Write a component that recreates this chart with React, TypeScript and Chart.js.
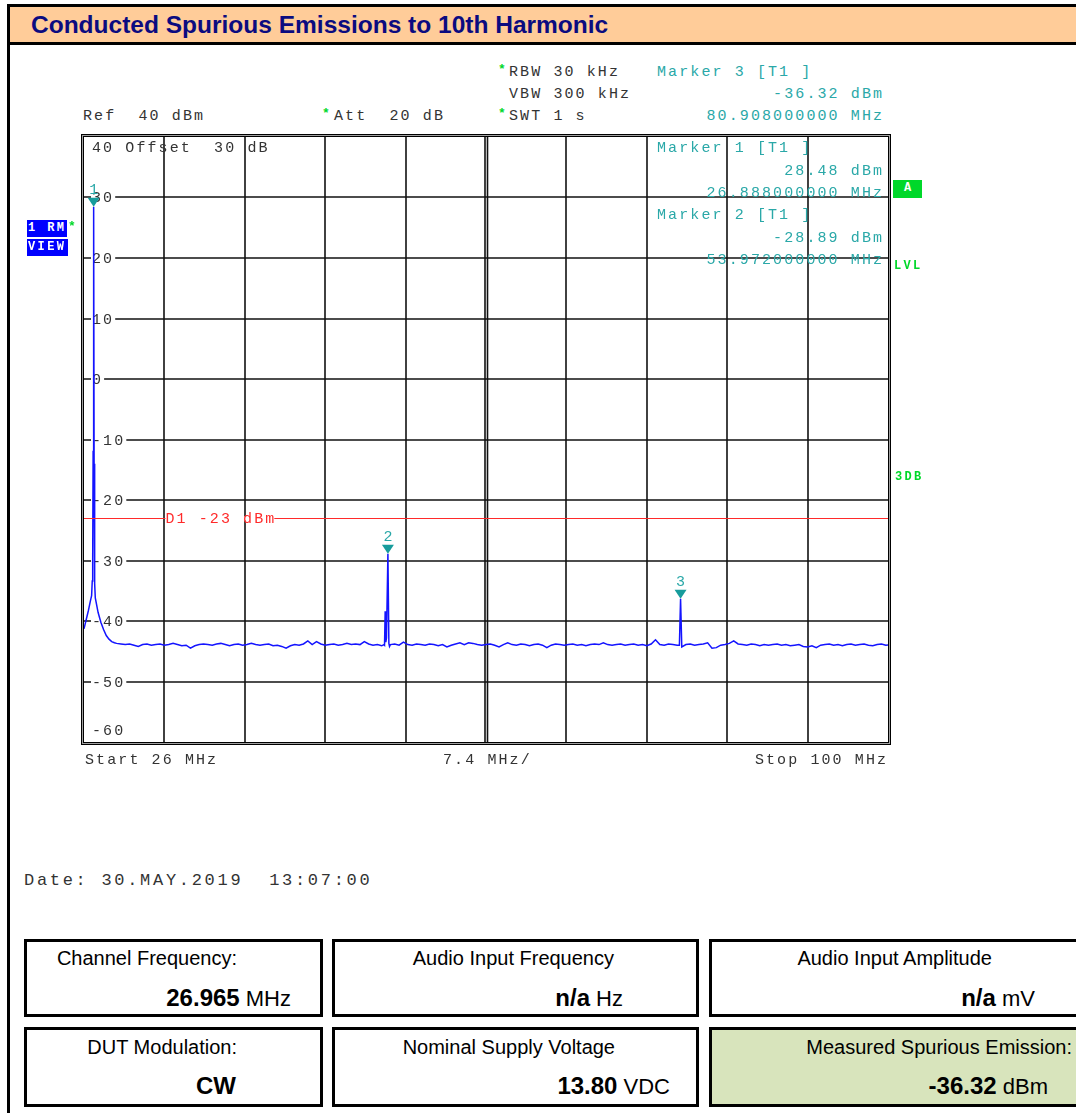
import React, { useEffect, useRef } from 'react';
import { Chart, registerables } from 'chart.js';

Chart.register(...registerables);

// ---------------- data ----------------
const START_MHZ = 26;
const STOP_MHZ = 100;
const MHZ_PER_DIV = 7.4;
const REF_LEVEL_DBM = 40;
const BOTTOM_LEVEL_DBM = -60;
const Y_TICK_LABELS = [30, 20, 10, 0, -10, -20, -30, -40, -50];
const DISPLAY_LINE_DBM = -23;

// carrier (fundamental) region of the trace
const CARRIER_FREQS = [26.0, 26.2, 26.4, 26.6, 26.7, 26.76, 26.8, 26.84, 26.888, 26.93, 26.96, 27.0, 27.04, 27.3, 27.55, 27.8, 28.05, 28.3, 28.55, 28.8];
const CARRIER_LEVELS = [-41.3, -39.8, -38.3, -36.6, -35.8, -33.4, -29.8, -12.0, 28.48, -14.0, -30.2, -33.8, -36.2, -38.6, -40.2, -41.4, -42.4, -43.0, -43.4, -43.6];

// 2nd harmonic region
const HARM2_FREQS = [53.6, 53.66, 53.72, 53.78, 53.84, 53.972, 54.06, 54.12];
const HARM2_LEVELS = [-43.9, -44.0, -38.4, -43.5, -42.8, -28.89, -43.7, -44.2];

// 3rd harmonic region
const HARM3_FREQS = [80.8, 80.908, 81.02];
const HARM3_LEVELS = [-44.0, -36.32, -44.3];

// noise floor, one reading every NOISE_STEP_MHZ from NOISE_START_MHZ
const NOISE_START_MHZ = 29.0;
const NOISE_STEP_MHZ = 0.4;
const NOISE_LEVELS = [
  -43.7, -43.8, -43.9, -43.8, -44.0, -44.2, -43.9, -43.8, -44.0, -43.9,
  -43.8, -44.0, -43.9, -43.7, -43.9, -44.1, -44.0, -44.5, -44.1, -43.9,
  -43.8, -43.9, -44.0, -43.8, -43.7, -43.9, -44.1, -43.9, -43.8, -44.0,
  -43.9, -43.7, -43.9, -44.0, -43.9, -43.8, -44.1, -44.0, -44.2, -44.5,
  -44.1, -43.9, -44.0, -43.8, -43.3, -43.9, -43.4, -43.8, -44.0, -43.9,
  -43.8, -44.0, -43.9, -43.7, -43.9, -43.8, -43.9, -43.4, -43.8, -44.0,
  -43.9, -44.1, -44.0, -43.9, -43.8, -44.0, -43.5, -43.9, -44.0, -43.8,
  -43.9, -44.0, -43.8, -43.9, -44.1, -43.9, -44.3, -44.0, -43.8, -43.6,
  -43.9, -43.6, -43.7, -43.9, -44.0, -43.9, -43.8, -44.0, -44.3, -43.9,
  -43.6, -43.9, -44.0, -43.8, -43.9, -44.1, -43.9, -43.8, -44.0, -44.4,
  -44.0, -43.8, -43.9, -44.0, -43.9, -43.8, -44.0, -43.9, -44.1, -43.9,
  -43.8, -43.9, -43.6, -43.9, -44.0, -43.9, -43.8, -44.0, -43.9, -43.8,
  -44.0, -43.9, -44.1, -43.8, -43.1, -43.9, -44.0, -43.8, -43.9, -44.0,
  -44.1, -43.9, -43.8, -44.0, -43.9, -43.8, -43.6, -44.5, -44.4, -44.0,
  -43.9, -43.7, -43.3, -43.8, -43.9, -44.0, -43.8, -43.9, -44.1, -43.9,
  -44.0, -43.9, -43.8, -44.0, -43.9, -44.1, -44.0, -43.9, -44.2, -44.3,
  -44.1, -44.4, -44.0, -43.9, -43.8, -44.0, -43.9, -44.1, -43.9, -43.8,
  -44.0, -43.9, -43.8, -44.0, -44.1, -43.9, -43.8, -44.0, -43.9,
];

const MARKER_IDS = ['1', '2', '3'];
const MARKER_FREQS = [26.888, 53.972, 80.908];
const MARKER_LEVELS = [28.48, -28.89, -36.32];

// ---------------- styles ----------------
const W = 1076;
const H = 1113;
const MONO = '"Liberation Mono", "DejaVu Sans Mono", monospace';
const SANS = '"Liberation Sans", Arial, sans-serif';
const GRAY_TEXT = '#333333';
const TEAL = '#2aa8a8';
const TEAL_MARK = '#179c9c';
const GREEN = '#00d82a';
const RED = '#ff2a2a';
const TRACE_BLUE = '#1414ff';
const MONO_SIZE = 15;
const SPACING = 2.1;

function buildTrace() {
  const segs: [number[], number[]][] = [
    [CARRIER_FREQS, CARRIER_LEVELS],
    [HARM2_FREQS, HARM2_LEVELS],
    [HARM3_FREQS, HARM3_LEVELS],
  ];
  const pts: { x: number; y: number }[] = [];
  segs.forEach(([f, l]) => f.forEach((v, i) => pts.push({ x: v, y: l[i] })));
  NOISE_LEVELS.forEach((l, i) => {
    const f = NOISE_START_MHZ + NOISE_STEP_MHZ * i;
    if (segs.some(([fs]) => f >= fs[0] - 0.01 && f <= fs[fs.length - 1] + 0.01)) return;
    pts.push({ x: f, y: l });
  });
  pts.sort((a, b) => a.x - b.x);
  return pts;
}

const analyzerPlugin = {
  id: 'analyzer',
  beforeDatasetsDraw(chart: any) {
    const { ctx, chartArea: a, scales } = chart;
    const xs = scales.x;
    const ys = scales.y;
    ctx.save();
    // grid
    ctx.strokeStyle = '#111111';
    ctx.lineWidth = 1.6;
    const nDiv = Math.round((STOP_MHZ - START_MHZ) / MHZ_PER_DIV);
    for (let k = 1; k < nDiv; k++) {
      const px = Math.round(xs.getPixelForValue(START_MHZ + MHZ_PER_DIV * k));
      const xsList = k === nDiv / 2 ? [px - 1, px + 1.5] : [px];
      xsList.forEach((p) => {
        ctx.beginPath();
        ctx.moveTo(p, a.top);
        ctx.lineTo(p, a.bottom);
        ctx.stroke();
      });
    }
    for (let v = REF_LEVEL_DBM - 10; v > BOTTOM_LEVEL_DBM; v -= 10) {
      const py = Math.round(ys.getPixelForValue(v));
      ctx.beginPath();
      ctx.moveTo(a.left, py);
      ctx.lineTo(a.right, py);
      ctx.stroke();
    }
    // frame (double)
    const L = a.left, R = a.right, T = a.top, B = a.bottom;
    ctx.lineWidth = 1;
    ctx.strokeStyle = '#000';
    ctx.strokeRect(L - 2.5, T - 2.5, R - L + 5, B - T + 5);
    ctx.strokeStyle = '#a0a0a0';
    ctx.strokeRect(L - 1.5, T - 1.5, R - L + 3, B - T + 3);
    ctx.strokeStyle = '#000';
    ctx.strokeRect(L - 0.5, T - 0.5, R - L + 1, B - T + 1);

    // y labels inside the plot
    ctx.font = `${MONO_SIZE}px ${MONO}`;
    (ctx as any).letterSpacing = `${SPACING}px`;
    ctx.textBaseline = 'middle';
    Y_TICK_LABELS.forEach((v) => {
      const py = Math.round(ys.getPixelForValue(v));
      const t = String(v);
      const w = ctx.measureText(t).width;
      ctx.fillStyle = '#fff';
      ctx.fillRect(L + 7, py - 2, w + 2, 4);
      ctx.fillStyle = GRAY_TEXT;
      ctx.fillText(t, L + 8, py + 1);
    });
    ctx.fillStyle = GRAY_TEXT;
    ctx.fillText(String(BOTTOM_LEVEL_DBM), L + 8, ys.getPixelForValue(BOTTOM_LEVEL_DBM) - 11);
    ctx.restore();
  },
  afterDatasetsDraw(chart: any) {
    const { ctx, chartArea: a, scales } = chart;
    const xs = scales.x;
    const ys = scales.y;
    ctx.save();
    // display line D1
    const dy = Math.round(ys.getPixelForValue(DISPLAY_LINE_DBM)) + 0.5;
    ctx.strokeStyle = RED;
    ctx.lineWidth = 1.2;
    ctx.beginPath();
    ctx.moveTo(a.left, dy);
    ctx.lineTo(a.right, dy);
    ctx.stroke();
    ctx.font = `${MONO_SIZE}px ${MONO}`;
    (ctx as any).letterSpacing = `${SPACING}px`;
    ctx.textBaseline = 'middle';
    const d1 = `D1 ${DISPLAY_LINE_DBM} dBm`;
    const lx = xs.getPixelForValue(START_MHZ + MHZ_PER_DIV) + 1;
    const w = ctx.measureText(d1).width;
    ctx.fillStyle = '#fff';
    ctx.fillRect(lx, dy - 2, w - SPACING, 4);
    ctx.fillStyle = RED;
    ctx.fillText(d1, lx, dy + 1);

    // markers
    MARKER_FREQS.forEach((f, i) => {
      const px = xs.getPixelForValue(f);
      const py = ys.getPixelForValue(MARKER_LEVELS[i]);
      ctx.fillStyle = TEAL_MARK;
      ctx.beginPath();
      ctx.moveTo(px - 6, py - 9);
      ctx.lineTo(px + 6, py - 9);
      ctx.lineTo(px, py);
      ctx.closePath();
      ctx.fill();
      ctx.fillStyle = TEAL;
      (ctx as any).letterSpacing = '0px';
      ctx.textAlign = 'center';
      ctx.fillText(MARKER_IDS[i], px, py - 17);
    });
    ctx.restore();
  },
};

type MonoProps = {
  x?: number;
  right?: number;
  y: number;
  text: string;
  color?: string;
  size?: number;
  spacing?: number;
  bold?: boolean;
};

function Mono({ x, right, y, text, color = GRAY_TEXT, size = MONO_SIZE, spacing = SPACING, bold = false }: MonoProps) {
  const style: React.CSSProperties = {
    position: 'absolute',
    top: y - Math.round(size * 0.5),
    fontFamily: MONO,
    fontSize: size,
    lineHeight: `${size + 2}px`,
    letterSpacing: spacing,
    whiteSpace: 'pre',
    color,
    fontWeight: bold ? 'bold' : 'normal',
  };
  if (right !== undefined) style.right = W - right - spacing;
  else style.left = x;
  return <span style={style}>{text}</span>;
}

function Star({ x, y }: { x: number; y: number }) {
  return (
    <span
      style={{
        position: 'absolute',
        left: x,
        top: y - 9,
        fontFamily: MONO,
        fontSize: 13,
        lineHeight: '14px',
        fontWeight: 'bold',
        color: GREEN,
      }}
    >
      *
    </span>
  );
}

function Box({ left, top, width, height, bg = '#fff' }: { left: number; top: number; width: number; height: number; bg?: string }) {
  return (
    <div
      style={{
        position: 'absolute',
        left,
        top,
        width,
        height,
        boxSizing: 'border-box',
        border: '3px solid #000',
        background: bg,
      }}
    />
  );
}

function Label({ right, cy, text }: { right: number; cy: number; text: string }) {
  return (
    <span
      style={{
        position: 'absolute',
        right: W - right,
        top: cy - 12,
        fontFamily: SANS,
        fontSize: 20,
        lineHeight: '24px',
        whiteSpace: 'pre',
        color: '#000',
      }}
    >
      {text}
    </span>
  );
}

function Value({ right, cy, value, unit }: { right: number; cy: number; value: string; unit: string }) {
  return (
    <span
      style={{
        position: 'absolute',
        right: W - right,
        top: cy - 14,
        fontFamily: SANS,
        fontSize: 24,
        lineHeight: '28px',
        whiteSpace: 'pre',
        color: '#000',
      }}
    >
      <b>{value}</b>
      {unit ? <span style={{ fontSize: 22 }}>{' ' + unit}</span> : null}
    </span>
  );
}

export default function App() {
  const canvasRef = useRef<HTMLCanvasElement | null>(null);

  useEffect(() => {
    const canvas = canvasRef.current;
    if (!canvas) return;
    const chart = new Chart(canvas, {
      type: 'line',
      data: {
        datasets: [
          {
            data: buildTrace(),
            borderColor: TRACE_BLUE,
            borderWidth: 1.5,
            pointRadius: 0,
            tension: 0,
            fill: false,
          },
        ],
      },
      options: {
        responsive: false,
        animation: false,
        devicePixelRatio: 1,
        layout: { padding: { left: 84, right: 188, top: 7, bottom: 28 } },
        plugins: { legend: { display: false }, tooltip: { enabled: false } },
        scales: {
          x: { type: 'linear', min: START_MHZ, max: STOP_MHZ, display: false },
          y: { type: 'linear', min: BOTTOM_LEVEL_DBM, max: REF_LEVEL_DBM, display: false },
        },
      },
      plugins: [analyzerPlugin],
    } as any);
    return () => chart.destroy();
  }, []);

  return (
    <div
      style={{
        position: 'absolute',
        left: 0,
        top: 0,
        width: W,
        height: H,
        overflow: 'hidden',
        background: '#fff',
      }}
    >
      {/* page frame and title bar */}
      <div style={{ position: 'absolute', left: 7, top: 4, width: 3, height: H - 4, background: '#000' }} />
      <div style={{ position: 'absolute', left: 7, top: 4, width: W - 7, height: 3, background: '#000' }} />
      <div style={{ position: 'absolute', left: 10, top: 7, width: W - 10, height: 35, background: '#FFCC99' }} />
      <div style={{ position: 'absolute', left: 7, top: 42, width: W - 7, height: 3, background: '#000' }} />
      <div
        style={{
          position: 'absolute',
          left: 31,
          top: 10,
          fontFamily: SANS,
          fontWeight: 'bold',
          fontSize: 24.5,
          lineHeight: '30px',
          color: '#0b0b80',
          whiteSpace: 'pre',
        }}
      >
        Conducted Spurious Emissions to 10th Harmonic
      </div>

      <canvas ref={canvasRef} width={1076} height={640} style={{ position: 'absolute', left: 0, top: 130 }} />

      {/* analyzer header */}
      <Star x={498} y={72} />
      <Mono x={509} y={72} text="RBW 30 kHz" />
      <Mono x={509} y={94} text="VBW 300 kHz" />
      <Star x={498} y={116} />
      <Mono x={509} y={116} text="SWT 1 s" />
      <Mono x={83} y={116} text="Ref  40 dBm" />
      <Star x={322} y={116} />
      <Mono x={334} y={116} text="Att  20 dB" />
      <Mono x={657} y={72} text="Marker 3 [T1 ]" color={TEAL} />
      <Mono right={882} y={94} text="-36.32 dBm" color={TEAL} />
      <Mono right={882} y={116} text="80.908000000 MHz" color={TEAL} />

      {/* in-plot annotations */}
      <Mono x={92} y={148} text="40 Offset  30 dB" />
      <Mono x={657} y={148} text="Marker 1 [T1 ]" color={TEAL} />
      <Mono right={882} y={171} text="28.48 dBm" color={TEAL} />
      <Mono right={882} y={193} text="26.888000000 MHz" color={TEAL} />
      <Mono x={657} y={215} text="Marker 2 [T1 ]" color={TEAL} />
      <Mono right={882} y={238} text="-28.89 dBm" color={TEAL} />
      <Mono right={882} y={260} text="53.972000000 MHz" color={TEAL} />

      {/* side labels */}
      <div
        style={{
          position: 'absolute', left: 27, top: 220, width: 40, height: 17, background: '#0000ff',
          color: '#fff', fontFamily: MONO, fontWeight: 'bold', fontSize: 12, lineHeight: '17px',
          letterSpacing: 2.4, whiteSpace: 'pre', textIndent: 1,
        }}
      >
        1 RM
      </div>
      <Star x={68} y={229} />
      <div
        style={{
          position: 'absolute', left: 27, top: 239, width: 41, height: 17, background: '#0000ff',
          color: '#fff', fontFamily: MONO, fontWeight: 'bold', fontSize: 12, lineHeight: '17px',
          letterSpacing: 2.4, whiteSpace: 'pre', textIndent: 1,
        }}
      >
        VIEW
      </div>
      <div
        style={{
          position: 'absolute', left: 893, top: 180, width: 29, height: 18, background: GREEN,
          color: '#fff', fontFamily: MONO, fontWeight: 'bold', fontSize: 12, lineHeight: '16px',
          textAlign: 'center',
        }}
      >
        A
      </div>
      <Mono x={894} y={265} text="LVL" color={GREEN} size={12} spacing={2.3} bold />
      <Mono x={895} y={476} text="3DB" color={GREEN} size={12} spacing={2.3} bold />

      {/* x axis annotations */}
      <Mono x={85} y={760} text="Start 26 MHz" />
      <Mono x={443} y={760} text="7.4 MHz/" />
      <Mono right={886} y={760} text="Stop 100 MHz" />

      <Mono x={24} y={880} text="Date: 30.MAY.2019  13:07:00" size={17} spacing={2.7} />

      {/* info table */}
      <Box left={24} top={939} width={299} height={78} />
      <Box left={332} top={939} width={367} height={78} />
      <Box left={709} top={939} width={380} height={78} />
      <Box left={24} top={1027} width={299} height={80} />
      <Box left={332} top={1027} width={367} height={80} />
      <Box left={709} top={1027} width={380} height={80} bg="#D8E4BC" />

      <Label right={237} cy={958} text="Channel Frequency:" />
      <Label right={614} cy={958} text="Audio Input Frequency" />
      <Label right={992} cy={958} text="Audio Input Amplitude" />
      <Value right={291} cy={998} value="26.965" unit="MHz" />
      <Value right={623} cy={998} value="n/a" unit="Hz" />
      <Value right={1035} cy={998} value="n/a" unit="mV" />

      <Label right={237} cy={1047} text="DUT Modulation:" />
      <Label right={615} cy={1047} text="Nominal Supply Voltage" />
      <Label right={1072} cy={1047} text="Measured Spurious Emission:" />
      <Value right={236} cy={1086} value="CW" unit="" />
      <Value right={670} cy={1086} value="13.80" unit="VDC" />
      <Value right={1048} cy={1086} value="-36.32" unit="dBm" />
    </div>
  );
}
